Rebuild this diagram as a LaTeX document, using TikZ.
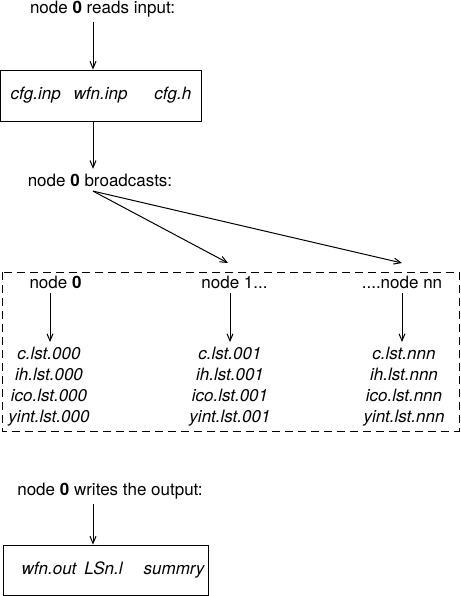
\documentclass[tikz,border=0pt]{standalone}
\usepackage{fontspec}
\setmainfont{TeX Gyre Heros}
\usetikzlibrary{arrows.meta}

\begin{document}
\begin{tikzpicture}[x=0.6pt,y=-0.6pt]
            \tikzset{arr/.style = {-{Straight Barb[length=4.2pt,width=3.6pt]}, line width=0.6pt}}
            \tikzset{txt/.style = {inner sep=2.7pt, anchor=base, font=\fontsize{10.2pt}{12.6pt}\selectfont}}
            \tikzset{filebox/.style = {draw, line width=0.6pt, inner sep=0pt, font=\fontsize{10.2pt}{12.6pt}\selectfont\itshape}}
            \tikzset{files/.style = {align=center, anchor=north, inner sep=2.7pt, font=\fontsize{10.2pt}{12.6pt}\selectfont\itshape}}
            \tikzset{dashbox/.style = {line width=0.6pt, dash pattern=on 4.8pt off 3pt}}

            \useasboundingbox (0,0) rectangle (461,596);
            \coordinate (ax) at (93,0);

            % input
            \node[txt] (rin) at (102.5,13) {node \textbf{0} reads input:};
            \node[filebox, minimum width=120.6pt, minimum height=30.6pt] (inbox) at (101,95.5)
                {cfg.inp\hspace{7.8pt}wfn.inp\hspace{16.2pt}cfg.h};
            \draw[arr] (rin.south -| ax) -- (inbox.north -| ax);

            % broadcast
            \node[txt] (bcast) at (100,186) {node \textbf{0} broadcasts:};
            \draw[arr] (inbox.south -| ax) -- (bcast.north -| ax);
            \coordinate (to1) at (228,263);
            \coordinate (ton) at (402,263);
            \draw[arr] (bcast.south -| ax) -- (to1);
            \draw[arr] (bcast.south -| ax) -- (ton);

            % nodes
            \draw[dashbox] (2,272) rectangle (459,431);
            \node[txt] (n0) at (55.5,288) {node \textbf{0}};
            \node[txt] (n1) at (234.5,288) {node 1...};
            \node[txt] (nn) at (402,288) {....node nn};
            \node[files] (f0) at (49,342) {c.lst.000\\ih.lst.000\\ico.lst.000\\yint.lst.000};
            \node[files] (f1) at (230,342) {c.lst.001\\ih.lst.001\\ico.lst.001\\yint.lst.001};
            \node[files] (fn) at (404,342) {c.lst.nnn\\ih.lst.nnn\\ico.lst.nnn\\yint.lst.nnn};
            \draw[arr] (n0.south -| 50,0) -- (f0.north -| 50,0);
            \draw[arr] (n1.south -| f1.north) -- (f1.north);
            \draw[arr] (nn.south -| 402,0) -- (fn.north -| 402,0);

            % output
            \node[txt] (wout) at (110,495) {node \textbf{0} writes the output:};
            \node[filebox, minimum width=123pt, minimum height=30pt] (outbox) at (105.5,570)
                {\hspace{9pt}wfn.out\hspace{4.8pt}LSn.l\hspace{12.6pt}summry};
            \draw[arr] (wout.south -| ax) -- (outbox.north -| ax);

\end{tikzpicture}
\end{document}
